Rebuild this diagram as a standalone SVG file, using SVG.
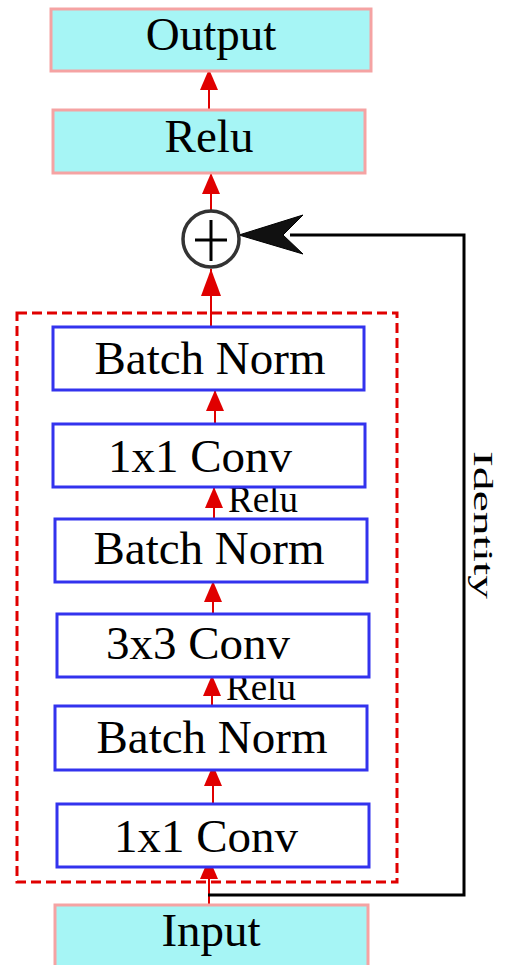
<svg xmlns="http://www.w3.org/2000/svg" width="510" height="965" viewBox="0 0 510 965">
<style>
.io{fill:#a6f5f5;stroke:#f5a3a3;stroke-width:3}
.blk{fill:#ffffff;stroke:#3333ee;stroke-width:3}
.t{font-family:"Liberation Serif","Times New Roman",serif;font-size:47px;fill:#000;text-anchor:middle}
.s{font-family:"Liberation Serif","Times New Roman",serif;font-size:37px;fill:#000}
.ra{stroke:#e00000;stroke-width:2;fill:none;marker-end:url(#rh)}
</style>
<defs>
<marker id="rh" markerUnits="userSpaceOnUse" markerWidth="22" markerHeight="22" viewBox="0 0 22 20" refX="21" refY="10" orient="auto">
<path d="M0,1 L21,10 L0,19 Z" fill="#e00000"/>
</marker>
<marker id="rh2" markerUnits="userSpaceOnUse" markerWidth="28" markerHeight="24" viewBox="0 0 28 22" refX="27" refY="11" orient="auto">
<path d="M0,1 L27,11 L0,21 Z" fill="#e00000"/>
</marker>
</defs>
<g id="container">
<rect x="17" y="313" width="380" height="569" fill="none" stroke="#e00000" stroke-width="3" stroke-dasharray="10 5"/>
</g>
<g id="connectors">
<line class="ra" x1="209" y1="110" x2="209" y2="69"/>
<line class="ra" x1="211" y1="211" x2="211" y2="173"/>
<line x1="211" y1="327" x2="211" y2="269" stroke="#e00000" stroke-width="2" marker-end="url(#rh2)"/>
<line class="ra" x1="215" y1="424" x2="215" y2="390"/>
<line class="ra" x1="214" y1="519" x2="214" y2="487"/>
<line class="ra" x1="213" y1="614" x2="213" y2="581"/>
<line class="ra" x1="212" y1="706" x2="212" y2="675"/>
<line class="ra" x1="213" y1="804" x2="213" y2="765"/>
<line class="ra" x1="209" y1="905" x2="209" y2="858"/>
<polyline points="208,895 464,895 464,235 290,235" fill="none" stroke="#000" stroke-width="3"/>
<path d="M239,235 L303,215 L283,235 L303,254 Z" fill="#111" stroke="#000" stroke-width="1"/>
<text x="0" y="0" transform="translate(474,451) rotate(90)" font-family="'Liberation Serif','Times New Roman',serif" font-size="28" textLength="148" lengthAdjust="spacingAndGlyphs">Identity</text>
<text class="s" x="228" y="512">Relu</text>
<text class="s" x="226" y="700">Relu</text>
</g>
<g id="output"><rect class="io" x="51" y="9" width="320" height="62"/><text class="t" x="211" y="50">Output</text></g>
<g id="relu"><rect class="io" x="53" y="110" width="312" height="63"/><text class="t" x="209" y="152">Relu</text></g>
<g id="add"><circle cx="211" cy="239" r="28" fill="#fff" stroke="#333" stroke-width="3.5"/><line x1="195" y1="240" x2="227" y2="240" stroke="#000" stroke-width="3"/><line x1="211" y1="220" x2="211" y2="261" stroke="#000" stroke-width="3"/></g>
<g id="bn1"><rect class="blk" x="53" y="327" width="311" height="63"/><text class="t" x="210" y="374">Batch Norm</text></g>
<g id="conv1"><rect class="blk" x="53" y="424" width="312" height="63"/><text class="t" x="200" y="472">1x1 Conv</text></g>
<g id="bn2"><rect class="blk" x="55" y="519" width="312" height="63"/><text class="t" x="209" y="564">Batch Norm</text></g>
<g id="conv3"><rect class="blk" x="57" y="614" width="312" height="63"/><text class="t" x="198" y="659">3x3 Conv</text></g>
<g id="bn3"><rect class="blk" x="55" y="706" width="312" height="64"/><text class="t" x="212" y="753">Batch Norm</text></g>
<g id="conv4"><rect class="blk" x="57" y="804" width="312" height="63"/><text class="t" x="206" y="852">1x1 Conv</text></g>
<g id="input"><rect class="io" x="55" y="905" width="313" height="62"/><text class="t" x="211" y="946">Input</text></g>
</svg>
